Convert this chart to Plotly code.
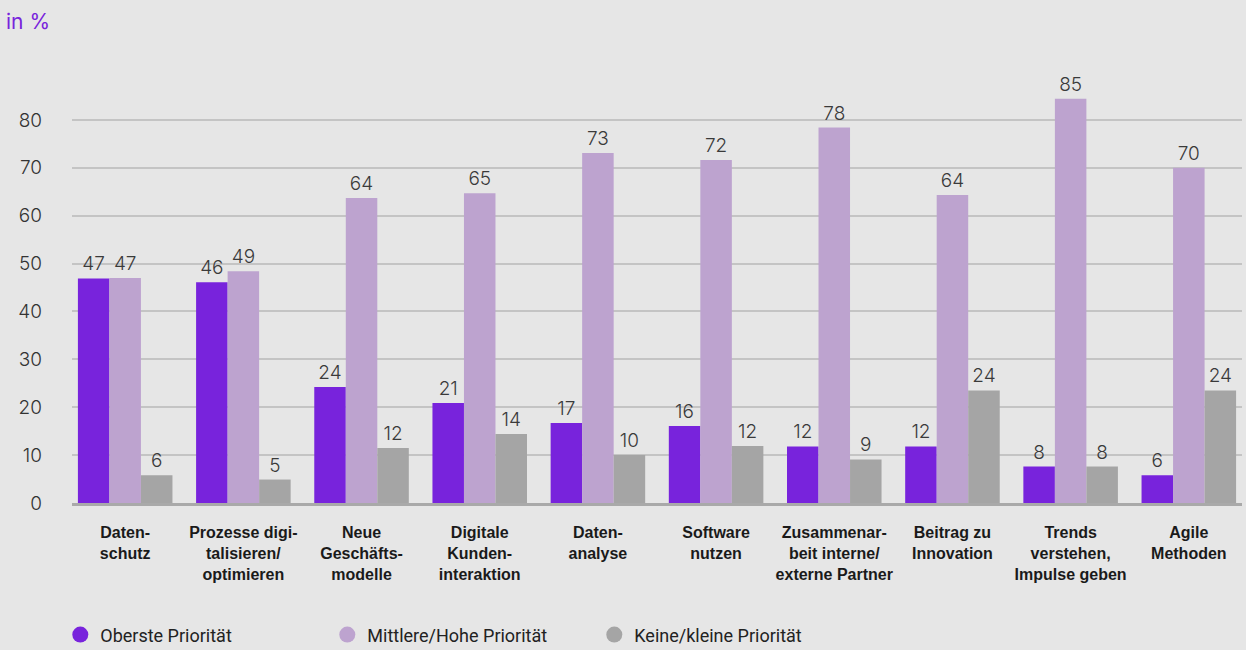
import plotly.graph_objects as go

categories = [
    "<b>Daten-<br>schutz</b>",
    "<b>Prozesse digi-<br>talisieren/<br>optimieren</b>",
    "<b>Neue<br>Geschäfts-<br>modelle</b>",
    "<b>Digitale<br>Kunden-<br>interaktion</b>",
    "<b>Daten-<br>analyse</b>",
    "<b>Software<br>nutzen</b>",
    "<b>Zusammenar-<br>beit interne/<br>externe Partner</b>",
    "<b>Beitrag zu<br>Innovation</b>",
    "<b>Trends<br>verstehen,<br>Impulse geben</b>",
    "<b>Agile<br>Methoden</b>",
]

series_names = ["Oberste Priorität", "Mittlere/Hohe Priorität", "Keine/kleine Priorität"]

oberste = [46.9, 46.1, 24.2, 20.9, 16.7, 16.1, 11.8, 11.8, 7.6, 5.8]
mittlere = [47.0, 48.4, 63.7, 64.7, 73.1, 71.6, 78.4, 64.3, 84.4, 70.0]
keine = [5.8, 4.9, 11.5, 14.4, 10.0, 11.9, 9.1, 23.5, 7.6, 23.5]

oberste_labels = ["47", "46", "24", "21", "17", "16", "12", "12", "8", "6"]
mittlere_labels = ["47", "49", "64", "65", "73", "72", "78", "64", "85", "70"]
keine_labels = ["6", "5", "12", "14", "10", "12", "9", "24", "8", "24"]

y_ticks = [0, 10, 20, 30, 40, 50, 60, 70, 80]

colors = ["#7823dc", "#bda3cf", "#a5a5a5"]

fig = go.Figure()
x_idx = list(range(len(categories)))
for vals, labels, col in zip([oberste, mittlere, keine],
                             [oberste_labels, mittlere_labels, keine_labels], colors):
    fig.add_trace(go.Bar(
        x=x_idx, y=vals, text=labels, textposition="outside",
        constraintext="none", cliponaxis=False,
        textfont=dict(family="Inter", size=19, color="#3a3a3a", weight=300),
        marker=dict(color=col, line=dict(width=0)),
        showlegend=False, hoverinfo="skip",
    ))

for name, col in zip(series_names, colors):
    fig.add_trace(go.Scatter(
        x=[None], y=[None], mode="markers", name=name,
        marker=dict(symbol="circle", size=19, color=col),
    ))

fig.update_layout(
    width=1246, height=650,
    paper_bgcolor="#e6e6e6", plot_bgcolor="#e6e6e6",
    margin=dict(l=72, r=4, t=72, b=147, autoexpand=False),
    barmode="group", bargap=0.2, bargroupgap=0,
    font=dict(family="Roboto", color="#222222"),
    legend=dict(
        orientation="h", x=-0.01, xanchor="left", y=-0.306, yanchor="middle",
        font=dict(family="Roboto", size=18, color="#222222"),
        entrywidth=222, entrywidthmode="pixels",
        itemsizing="trace", bgcolor="rgba(0,0,0,0)",
    ),
    annotations=[dict(
        text="in %", xref="paper", yref="paper", x=-0.058, y=1.118,
        xanchor="left", yanchor="middle", showarrow=False,
        font=dict(family="Inter", size=21, color="#7823dc"),
    )],
)

fig.update_xaxes(
    tickmode="array", tickvals=x_idx, ticktext=categories,
    range=[-0.45, 9.45], showgrid=False, zeroline=False,
    showline=True, linecolor="#a9a9a9", linewidth=3,
    ticks="", ticklabelstandoff=13, automargin=False,
    tickfont=dict(family="Liberation Sans", size=16, color="#1a1a1a"),
)
fig.update_yaxes(
    range=[0, 90], tickvals=y_ticks, showgrid=True, gridcolor="#c4c4c4",
    gridwidth=2, zeroline=False, showline=False, ticks="",
    ticklabelstandoff=29, automargin=False,
    tickfont=dict(family="Inter", size=19, color="#333333", weight=300),
)

fig.write_html(
    "out.html",
    config={"displayModeBar": False},
    post_script="document.body.style.margin='0';document.body.style.background='#e6e6e6';",
)
